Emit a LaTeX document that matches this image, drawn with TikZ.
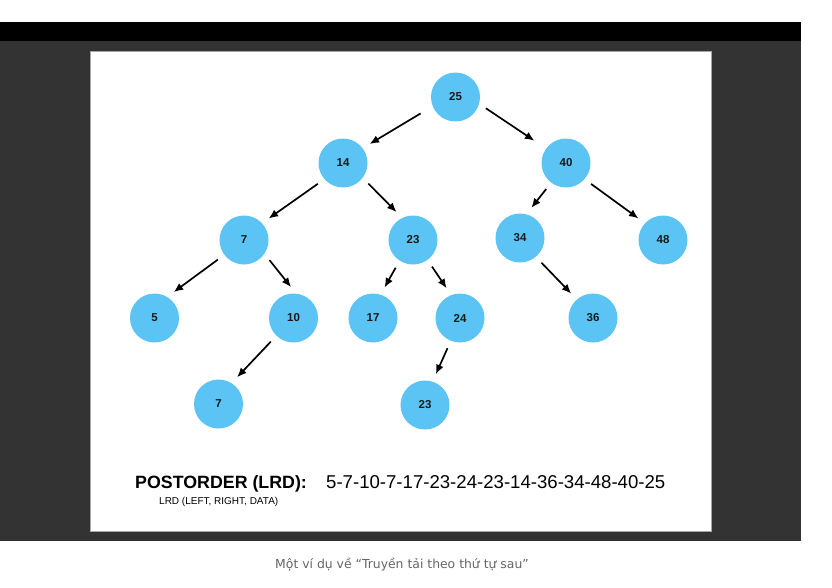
\documentclass[tikz,border=0pt]{standalone}
\usepackage{fontspec}
\setmainfont{Liberation Sans}
\newfontfamily\captionfont{DejaVu Sans}
\usetikzlibrary{arrows.meta}
\definecolor{nodeblue}{HTML}{5BC4F5}
\definecolor{darkpanel}{HTML}{333333}
\definecolor{captiongray}{HTML}{666666}
\tikzset{
  treenode/.style={circle, fill=nodeblue, minimum size=49pt, inner sep=0pt,
    text=black!90, font=\fontsize{11.5}{13}\selectfont\bfseries},
  arr/.style={-{Latex[length=9.5pt,width=8pt]}, line width=1.7pt,
    shorten <=8pt, shorten >=8pt},
  label text/.style={inner sep=0pt, anchor=base west},
}

\begin{document}
\begin{tikzpicture}[x=1pt,y=-1pt]
% screenshot frame
\useasboundingbox (0,0) rectangle (832,587);
\fill[white] (0,0) rectangle (832,587);
\fill[black] (0,22) rectangle (801,41);
\fill[darkpanel] (0,41) rectangle (801,541);
\filldraw[fill=white, draw=gray!70, line width=0.6pt] (90.5,51) rectangle (711.5,531.5);

% tree nodes
\node[treenode] (n25) at (455.5,97) {25};
\node[treenode] (n14) at (343,163) {14};
\node[treenode] (n40) at (566,163) {40};
\node[treenode] (n7) at (244,240) {7};
\node[treenode] (n23) at (413,240) {23};
\node[treenode] (n34) at (520,238) {34};
\node[treenode] (n48) at (663,240) {48};
\node[treenode] (n5) at (154.5,318) {5};
\node[treenode] (n10) at (293.5,318) {10};
\node[treenode] (n17) at (373,318) {17};
\node[treenode] (n24) at (460,318) {24};
\node[treenode] (n36) at (593,318) {36};
\node[treenode] (n7b) at (218.5,404) {7};
\node[treenode] (n23b) at (425,405) {23};

% arrows
\draw[arr, shorten <=14pt] (n25.202) -- (n14.37);
\draw[arr, shorten >=14pt] (n25.344) -- (n40.144);
\draw[arr] (n14.221) -- (n7.43);
\draw[arr] (n14.323) -- (n23.116);
\draw[arr] (n40.233) -- (n34.75);
\draw[arr] (n40.319) -- (n48.137);
\draw[arr] (n7.217) -- (n5.59);
\draw[arr] (n7.326) -- (n10.84);
\draw[arr] (n23.237) -- (n17.72);
\draw[arr] (n23.306) -- (n24.111);
\draw[arr] (n34.310) -- (n36.131);
\draw[arr] (n10.226) -- (n7b.58);
\draw[arr] (n24.248) -- (n23b.72);

% texts
\node[label text, font=\fontsize{17.8}{20}\selectfont\bfseries] (title) at (135,488) {POSTORDER (LRD):};
\node[label text, font=\fontsize{18.6}{20}\selectfont] (order) at (326,488) {5-7-10-7-17-23-24-23-14-36-34-48-40-25};
\node[label text, font=\fontsize{10}{11}\selectfont] (lrd) at (159,504) {LRD (LEFT, RIGHT, DATA)};
\node[inner sep=0pt, anchor=base, text=captiongray, font=\captionfont\fontsize{12.4}{14}\selectfont] (caption) at (402,568) {Một ví dụ về “Truyền tải theo thứ tự sau”};
\end{tikzpicture}
\end{document}
